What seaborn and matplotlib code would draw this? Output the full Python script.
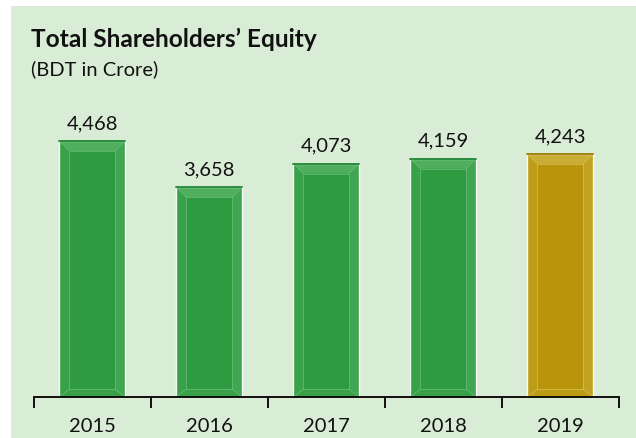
import numpy as np
import pandas as pd
import matplotlib
matplotlib.use("Agg")
import matplotlib.pyplot as plt
from matplotlib.patches import Polygon, Rectangle
import seaborn as sns

years = ["2015", "2016", "2017", "2018", "2019"]
equity = [4468, 3658, 4073, 4159, 4243]
bar_colors = ["#2f9b40", "#2f9b40", "#2f9b40", "#2f9b40", "#b8950a"]
light_colors = ["#6cc07a", "#6cc07a", "#6cc07a", "#6cc07a", "#d9c25a"]
edge_colors = ["#1f8533", "#1f8533", "#1f8533", "#1f8533", "#9c7d05"]

BG = "#d9ecd5"


def bevel(ax, patch, light, edge, inset_px=10):
    # fake the bevelled look of the original bars using the drawn patch geometry
    x0, w, h = patch.get_x(), patch.get_width(), patch.get_height()
    x1 = x0 + w
    inv = ax.transData.inverted()
    p0 = ax.transData.transform((x0, 0))
    dx = inv.transform((p0[0] + inset_px, p0[1]))[0] - x0
    dy = inv.transform((p0[0], p0[1] + inset_px))[1]
    dyb = dy * 0.8
    top = Polygon([(x0, h), (x1, h), (x1 - dx, h - dy), (x0 + dx, h - dy)],
                  closed=True, facecolor=light, edgecolor="none", alpha=0.55, zorder=3)
    left = Polygon([(x0, 0), (x0, h), (x0 + dx, h - dy), (x0 + dx, dyb)],
                   closed=True, facecolor=light, edgecolor="none", alpha=0.18, zorder=3)
    right = Polygon([(x1, 0), (x1, h), (x1 - dx, h - dy), (x1 - dx, dyb)],
                    closed=True, facecolor=light, edgecolor="none", alpha=0.3, zorder=3)
    bottom = Polygon([(x0, 0), (x1, 0), (x1 - dx, dyb), (x0 + dx, dyb)],
                     closed=True, facecolor=light, edgecolor="none", alpha=0.15, zorder=3)
    for poly in (top, left, right, bottom):
        ax.add_patch(poly)
    ax.add_patch(Rectangle((x0 + dx, dyb), w - 2 * dx, h - dy - dyb, facecolor="none",
                           edgecolor=light, linewidth=0.7, alpha=0.7, zorder=4))
    ax.plot([x0, x0 + dx], [0, dyb], color=light, lw=0.7, alpha=0.7, zorder=4)
    ax.plot([x1, x1 - dx], [0, dyb], color=light, lw=0.7, alpha=0.7, zorder=4)
    ax.plot([x0, x0 + dx], [h, h - dy], color=light, lw=0.7, alpha=0.7, zorder=4)
    ax.plot([x1, x1 - dx], [h, h - dy], color=light, lw=0.7, alpha=0.7, zorder=4)
    ax.plot([x0, x1], [h, h], color=edge, lw=1.3, zorder=5)


def main():
    sns.set_style("white")
    plt.rcParams["font.family"] = ["Lato", "DejaVu Sans"]

    df = pd.DataFrame({"year": years, "equity": equity})

    fig = plt.figure(figsize=(6.36, 4.38), dpi=100)
    fig.patch.set_facecolor("white")
    fig.patches.append(Rectangle((11 / 636, 0), 1, 432 / 438, transform=fig.transFigure,
                                 facecolor=BG, edgecolor="none", zorder=-10))

    ax = fig.add_axes([33.7 / 636, 41 / 438, 585 / 636, 297 / 438])
    ax.set_facecolor("none")
    ax.set_zorder(1)

    sns.barplot(data=df, x="year", y="equity", hue="year", palette=bar_colors,
                legend=False, width=0.56, ax=ax, saturation=1, zorder=2)
    ax.set_xlim(-0.5, 4.5)
    ax.set_ylim(0, 5183)

    bars = list(ax.patches[:len(years)])
    for i, p in enumerate(bars):
        bevel(ax, p, light_colors[i], edge_colors[i])
        ax.annotate(f"{equity[i]:,}", (p.get_x() + p.get_width() / 2, p.get_height()),
                    xytext=(0, 8.6), textcoords="offset points", ha="center",
                    va="baseline", fontsize=14.5, color="#111111")

    for s in ["top", "left", "right"]:
        ax.spines[s].set_visible(False)
    ax.spines["bottom"].set_color("black")
    ax.spines["bottom"].set_linewidth(1.3)
    ax.spines["bottom"].set_zorder(6)
    ax.set_yticks([])
    ax.set_xticks(np.arange(len(years)))
    ax.set_xticklabels(years, fontsize=14.5, color="#111111")
    ax.set_xticks(np.arange(len(years) + 1) - 0.5, minor=True)
    ax.tick_params(axis="x", which="major", length=0, pad=15)
    ax.tick_params(axis="x", which="minor", length=8, width=1.3, color="black",
                   direction="out", bottom=True)
    ax.set_xlabel("")
    ax.set_ylabel("")

    fig.text(31 / 636, 1 - 47 / 438, "Total Shareholders\u2019 Equity", fontsize=17.6,
             fontweight="bold", color="#111111", va="baseline")
    fig.text(31 / 636, 1 - 75 / 438, "(BDT in Crore)", fontsize=14.5,
             color="#111111", va="baseline")

    fig.savefig("out.png", dpi=100, facecolor=fig.get_facecolor())


if __name__ == "__main__":
    main()
